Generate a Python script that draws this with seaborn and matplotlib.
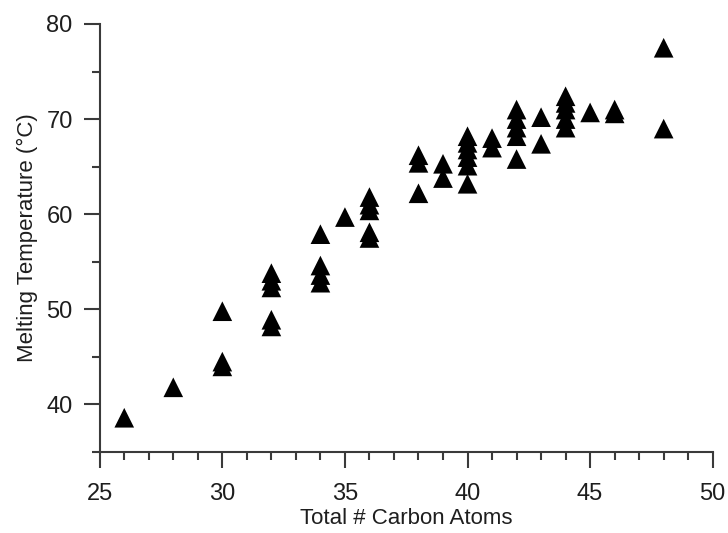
import pandas as pd
import seaborn as sns
import matplotlib.pyplot as plt
from matplotlib.ticker import MultipleLocator

# Values
carbons = [26, 28, 30, 30, 30,
           32, 32, 32, 32, 32,
           34, 34, 34, 34, 35,
           36, 36, 36, 36, 36,
           38, 38, 38, 39, 39,
           40, 40, 40, 40, 40, 40,
           41, 41, 42, 42, 42, 42, 42,
           43, 43, 44, 44, 44, 44, 44,
           45, 46, 46, 48, 48]
melt_temp = [38.6, 41.8, 49.8, 44.5, 44.0,
             53.8, 53.0, 52.3, 48.9, 48.2,
             57.9, 54.6, 53.6, 52.8, 59.7,
             61.8, 61.0, 60.4, 58.1, 57.5,
             66.2, 65.4, 62.2, 65.3, 63.8,
             68.2, 67.5, 66.8, 66.0, 65.1, 63.2,
             68.0, 67.0, 71.0, 70.0, 69.1, 68.2, 65.8,
             70.2, 67.4, 72.4, 71.7, 71.0, 70.0, 69.1,
             70.7, 71.0, 70.6, 77.5, 69.0]

df = pd.DataFrame({"carbons": carbons, "melt_temp": melt_temp})

sns.set_style("ticks")
plt.rcParams["font.family"] = ["Liberation Sans", "DejaVu Sans"]
text_col = "#1e1e1e"

fig = plt.figure(figsize=(7.28, 5.33), dpi=100)
ax = fig.add_axes([0.137, 0.152, 0.842, 0.803])

sns.scatterplot(data=df, x="carbons", y="melt_temp", marker="^", s=200,
                color="black", edgecolor="none", ax=ax, legend=False)

ax.set_xlim(25, 50)
ax.set_ylim(35, 80)
ax.xaxis.set_major_locator(MultipleLocator(5))
ax.xaxis.set_minor_locator(MultipleLocator(1))
ax.yaxis.set_major_locator(MultipleLocator(10))
ax.yaxis.set_minor_locator(MultipleLocator(5))
ax.set_yticks([40, 50, 60, 70, 80])

spine_col = "#3a3a3a"
sns.despine(ax=ax)
for side in ["left", "bottom"]:
    ax.spines[side].set_color(spine_col)
    ax.spines[side].set_linewidth(1.5)
ax.tick_params(which="major", length=11.5, width=1.5, color=spine_col,
               labelsize=17, labelcolor=text_col, pad=8)
ax.tick_params(which="minor", length=6, width=1.5, color=spine_col)
ax.tick_params(axis="x", which="major", pad=11)

ax.set_xlabel("Total # Carbon Atoms", fontsize=16, color=text_col, labelpad=2)
ax.set_ylabel("Melting Temperature (°C)", fontsize=16, color=text_col, labelpad=6)

fig.savefig("out.png", dpi=100)
